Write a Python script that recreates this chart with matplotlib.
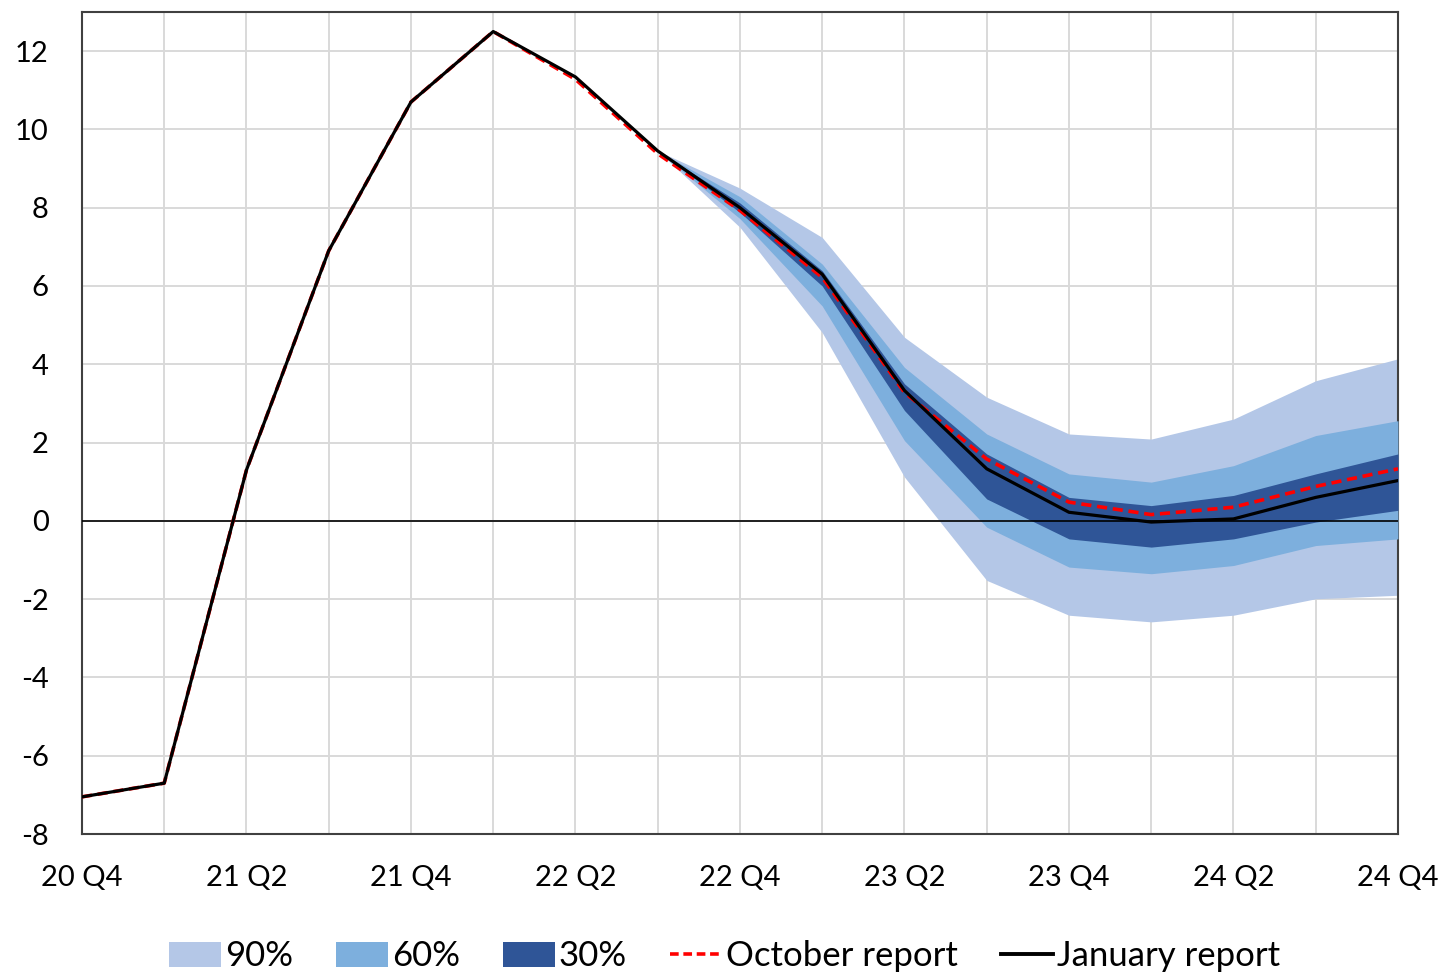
import numpy as np
import matplotlib.pyplot as plt
from matplotlib.patches import Patch
from matplotlib.lines import Line2D

plt.rcParams['font.family'] = ['Lato', 'DejaVu Sans']
plt.rcParams['axes.unicode_minus'] = False

quarters = ["20 Q4", "21 Q1", "21 Q2", "21 Q3", "21 Q4", "22 Q1", "22 Q2", "22 Q3",
            "22 Q4", "23 Q1", "23 Q2", "23 Q3", "23 Q4", "24 Q1", "24 Q2", "24 Q3", "24 Q4"]

january = [-7.05, -6.7, 1.3, 6.9, 10.7, 12.5, 11.34, 9.45, 8.0, 6.3, 3.33, 1.33,
           0.22, -0.03, 0.05, 0.6, 1.03]
october = [-7.05, -6.7, 1.3, 6.9, 10.7, 12.5, 11.28, 9.38, 7.93, 6.22, 3.28, 1.58,
           0.48, 0.16, 0.35, 0.88, 1.33]

# fan chart bands, from 22 Q3 onwards
fan_start = 7
band90_lo = [9.45, 7.5, 4.81, 1.12, -1.52, -2.41, -2.58, -2.41, -1.99, -1.9]
band90_hi = [9.45, 8.5, 7.24, 4.69, 3.16, 2.22, 2.09, 2.6, 3.58, 4.14]
band60_lo = [9.45, 7.72, 5.49, 2.05, -0.16, -1.18, -1.35, -1.14, -0.63, -0.46]
band60_hi = [9.45, 8.28, 6.56, 3.92, 2.22, 1.2, 0.99, 1.41, 2.18, 2.56]
band30_lo = [9.45, 7.88, 6.0, 2.82, 0.56, -0.46, -0.67, -0.46, -0.03, 0.27]
band30_hi = [9.45, 8.12, 6.39, 3.5, 1.71, 0.6, 0.39, 0.65, 1.2, 1.71]

c90, c60, c30 = "#B4C7E7", "#7DAFDD", "#2F5597"

fig = plt.figure(figsize=(14.43, 9.73), dpi=100)
ax = fig.add_axes([0.0568, 0.1428, 0.912, 0.8449])

x = np.arange(len(quarters))
xf = x[fan_start:]

ax.fill_between(xf, band90_lo, band90_hi, color=c90, lw=0, zorder=2)
ax.fill_between(xf, band60_lo, band60_hi, color=c60, lw=0, zorder=3)
ax.fill_between(xf, band30_lo, band30_hi, color=c30, lw=0, zorder=4)

ax.axhline(0, color="black", lw=1.2, zorder=5)
ax.plot(x, october, color="#FF0000", lw=2.6, dashes=(2.8, 1.6), zorder=6)
ax.plot(x, january, color="black", lw=2.3, zorder=7)

ax.set_xlim(0, 16)
ax.set_ylim(-8, 13)
ax.set_xticks(x)
ax.set_xticklabels([q if i % 2 == 0 else "" for i, q in enumerate(quarters)])
ax.set_yticks(np.arange(-8, 13, 2))
ax.grid(True, color="#D9D9D9", lw=1.4, zorder=0)
ax.set_axisbelow(True)
ax.tick_params(length=0, labelsize=21, colors="black")
ax.tick_params(axis="x", pad=22)
ax.tick_params(axis="y", pad=24)
for s in ax.spines.values():
    s.set_color("#404040")
    s.set_linewidth(1.5)

handles = [
    Patch(facecolor=c90, label="90%"),
    Patch(facecolor=c60, label="60%"),
    Patch(facecolor=c30, label="30%"),
    Line2D([], [], color="#FF0000", lw=2.6, dashes=(2.4, 1.3), label="October report"),
    Line2D([], [], color="black", lw=2.8, label="January report"),
]
fig.legend(handles=handles, loc="center", bbox_to_anchor=(0.502, 0.017), ncol=5,
           frameon=False, fontsize=25, handlelength=1.5, handleheight=0.75,
           handletextpad=0.1, columnspacing=1.25)

fig.savefig("out.png", dpi=100)
